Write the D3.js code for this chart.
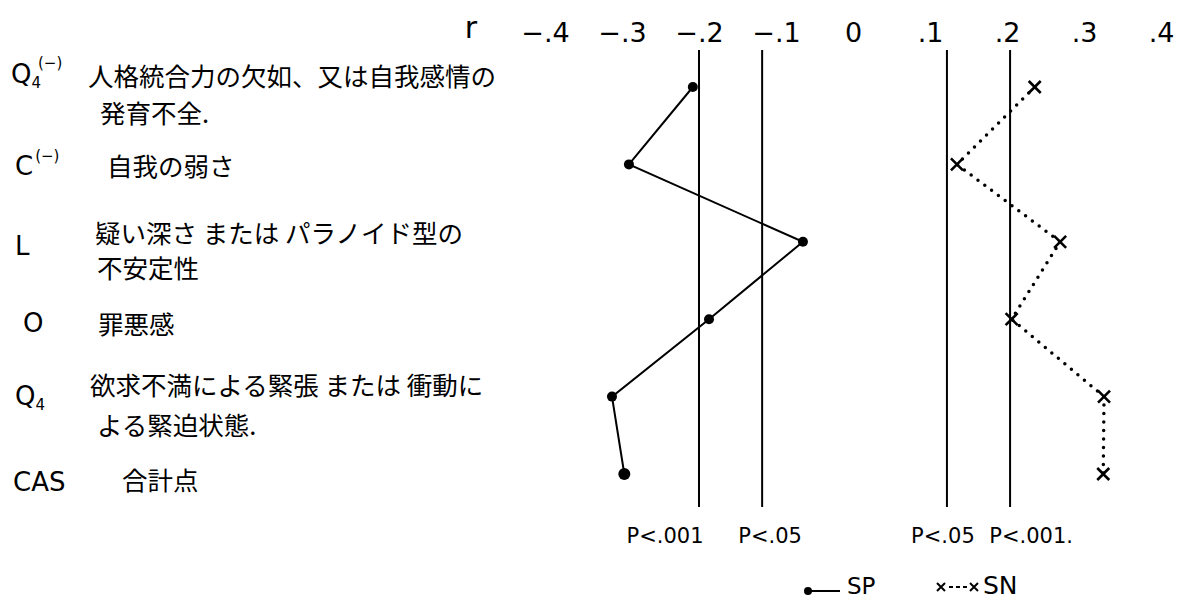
<!DOCTYPE html>
<html>
<head>
<meta charset="utf-8">
<script src="https://cdn.jsdelivr.net/npm/d3@7"></script>
<style>
  html, body { margin: 0; padding: 0; background: #ffffff; }
  svg { display: block; }
  .jp { font-family: "Noto Sans CJK JP", "Noto Sans", sans-serif; }
  .lat { font-family: "DejaVu Sans", "Liberation Sans", sans-serif; }
</style>
</head>
<body>
<svg id="chart" width="1181" height="603"></svg>
<script>
// ---- data ----
const categories = ["Q4(-)", "C(-)", "L", "O", "Q4", "CAS"];
const descriptions = [
  ["人格統合力の欠如、又は自我感情の", "発育不全."],
  ["自我の弱さ"],
  ["疑い深さ または パラノイド型の", "不安定性"],
  ["罪悪感"],
  ["欲求不満による緊張 または 衝動に", "よる緊迫状態."],
  ["合計点"]
];
const spValues = [-0.208, -0.291, -0.065, -0.187, -0.313, -0.297];
const snValues = [0.236, 0.135, 0.269, 0.206, 0.326, 0.325];
const tickValues = [-0.4, -0.3, -0.2, -0.1, 0, 0.1, 0.2, 0.3, 0.4];
const tickLabels = ["−.4", "−.3", "−.2", "−.1", "0", ".1", ".2", ".3", ".4"];
const thresholdValues = [-0.2, -0.118, 0.122, 0.204];
const thresholdLabels = ["P<.001", "P<.05", "P<.05", "P<.001."];
const seriesNames = ["SP", "SN"];

// ---- layout ----
const svg = d3.select("#chart");
const x = d3.scaleLinear().domain([-0.4, 0.4]).range([545, 1161]);
const y = d3.scalePoint().domain(categories).range([87, 474]);

// axis (tick labels on top)
const axis = d3.axisTop(x)
  .tickValues(tickValues)
  .tickFormat((d, i) => tickLabels[i])
  .tickSize(0)
  .tickPadding(8);
const gAxis = svg.append("g").attr("transform", "translate(0,50)").call(axis);
gAxis.select(".domain").remove();
gAxis.selectAll("text")
  .attr("class", "lat")
  .style("font-family", "'DejaVu Sans', sans-serif")
  .style("font-size", "27px")
  .attr("fill", "#000");

svg.append("text").attr("class", "lat")
  .attr("x", 471).attr("y", 38)
  .attr("text-anchor", "middle")
  .style("font-size", "30px")
  .text("r");

// threshold vertical lines
svg.append("g").selectAll("line").data(thresholdValues).join("line")
  .attr("x1", d => x(d)).attr("x2", d => x(d))
  .attr("y1", 50).attr("y2", 507)
  .attr("stroke", "#000").attr("stroke-width", 2);

const thrOffsets = [-34, 8, -4, 21];
svg.append("g").selectAll("text").data(thresholdValues).join("text")
  .attr("class", "lat")
  .attr("x", (d, i) => x(d) + thrOffsets[i])
  .attr("y", 543)
  .attr("text-anchor", "middle")
  .style("font-size", "21px")
  .text((d, i) => thresholdLabels[i]);

// SP series
const line = d3.line().x(d => x(d.v)).y(d => y(d.c));
const spData = categories.map((c, i) => ({ c, v: spValues[i] }));
const snData = categories.map((c, i) => ({ c, v: snValues[i] }));

svg.append("path").datum(spData)
  .attr("d", line)
  .attr("fill", "none").attr("stroke", "#000").attr("stroke-width", 2);
svg.append("g").selectAll("circle").data(spData).join("circle")
  .attr("cx", d => x(d.v)).attr("cy", d => y(d.c))
  .attr("r", (d, i) => i === categories.length - 1 ? 6 : 5)
  .attr("fill", "#000");

// SN series
svg.append("path").datum(snData)
  .attr("d", line)
  .attr("fill", "none").attr("stroke", "#000")
  .attr("stroke-width", 3.5)
  .attr("stroke-linecap", "round")
  .attr("stroke-dasharray", "0 8.5");
const xMark = (cx, cy, s) => `M${cx - s},${cy - s}L${cx + s},${cy + s}M${cx - s},${cy + s}L${cx + s},${cy - s}`;
svg.append("g").selectAll("path").data(snData).join("path")
  .attr("d", d => xMark(x(d.v), y(d.c), 6))
  .attr("stroke", "#000").attr("stroke-width", 2.6).attr("fill", "none");

// left category labels
const codeLayout = [
  { x: 11, y: 83 }, { x: 15, y: 175 }, { x: 15, y: 255 },
  { x: 23, y: 332 }, { x: 15, y: 405 }, { x: 13, y: 491 }
];
const descLayout = [
  [{ x: 88, y: 86 }, { x: 100, y: 123 }],
  [{ x: 107, y: 176 }],
  [{ x: 95, y: 243 }, { x: 97, y: 278 }],
  [{ x: 98, y: 334 }],
  [{ x: 90, y: 395 }, { x: 97, y: 435 }],
  [{ x: 122, y: 490 }]
];

categories.forEach((c, i) => {
  const t = svg.append("text").attr("class", "lat")
    .attr("x", codeLayout[i].x).attr("y", codeLayout[i].y)
    .style("font-size", "26px");
  const m = c.match(/^([A-Z]+)(\d?)(\(-\))?$/);
  const base = m ? m[1] : c;
  const sub = m ? m[2] : "";
  const sup = m ? m[3] : "";
  t.append("tspan").text(base);
  if (sub) {
    t.append("tspan").attr("dy", 5).style("font-size", "15px").text(sub);
  }
  if (sup) {
    t.append("tspan").attr("dy", sub ? -20 : -14).attr("dx", sub ? -3 : 2)
      .style("font-size", "15px").text("(−)");
  }
  descriptions[i].forEach((line, j) => {
    svg.append("text").attr("class", "jp")
      .attr("x", descLayout[i][j].x).attr("y", descLayout[i][j].y)
      .style("font-size", "25.5px")
      .text(line);
  });
});

// legend
const leg = svg.append("g");
leg.append("line").attr("x1", 808).attr("x2", 840).attr("y1", 591).attr("y2", 591)
  .attr("stroke", "#000").attr("stroke-width", 2);
leg.append("circle").attr("cx", 808).attr("cy", 591).attr("r", 4).attr("fill", "#000");
leg.append("text").attr("class", "lat").attr("x", 847).attr("y", 594)
  .style("font-size", "23px").text(seriesNames[0]);
leg.append("path").attr("d", xMark(941, 587, 4) + xMark(974, 587, 4))
  .attr("stroke", "#000").attr("stroke-width", 2).attr("fill", "none");
leg.append("line").attr("x1", 949).attr("x2", 967).attr("y1", 587).attr("y2", 587)
  .attr("stroke", "#000").attr("stroke-width", 2).attr("stroke-dasharray", "4 3");
leg.append("text").attr("class", "lat").attr("x", 983).attr("y", 594)
  .style("font-size", "25px").text(seriesNames[1]);
</script>
</body>
</html>
